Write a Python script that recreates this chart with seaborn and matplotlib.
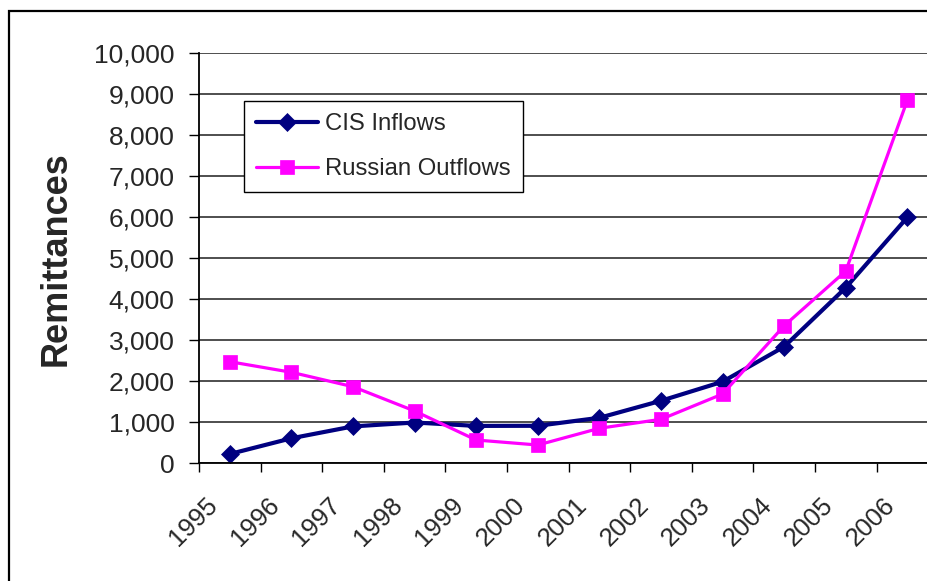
import matplotlib
matplotlib.use("Agg")
import matplotlib.pyplot as plt
from matplotlib.patches import Rectangle
from matplotlib.transforms import ScaledTranslation
from matplotlib.ticker import FuncFormatter, FixedLocator
import seaborn as sns
import pandas as pd

years = ["1995", "1996", "1997", "1998", "1999", "2000",
         "2001", "2002", "2003", "2004", "2005", "2006"]
cis_inflows = [227, 610, 900, 995, 912, 915, 1110, 1525, 1990, 2845, 4285, 6000]
russian_outflows = [2478, 2220, 1868, 1276, 568, 446, 854, 1073, 1690, 3356, 4690, 8860]
y_ticks = [0, 1000, 2000, 3000, 4000, 5000, 6000, 7000, 8000, 9000, 10000]

sns.set_theme(style="white")
plt.rcParams["font.family"] = ["Liberation Sans", "DejaVu Sans"]

df = pd.DataFrame({
    "idx": list(range(len(years))),
    "year": years,
    "CIS Inflows": cis_inflows,
    "Russian Outflows": russian_outflows,
})

W, H = 928, 581
fig = plt.figure(figsize=(W / 100, H / 100), dpi=100)
left_px, right_px = 199, 199 + 12 * 61.6
top_px, bot_px = 53.3, 463.3
ax = fig.add_axes([left_px / W, (H - bot_px) / H,
                   (right_px - left_px) / W, (bot_px - top_px) / H])

ax.set_axisbelow(True)
ax.yaxis.grid(True, color="#303030", linewidth=1.2)
ax.xaxis.grid(False)

sns.lineplot(data=df, x="idx", y="CIS Inflows", ax=ax, color="#000080",
             linewidth=3.0, marker="D", markersize=9, markeredgecolor="#000080",
             markeredgewidth=0.5, label="CIS Inflows")
sns.lineplot(data=df, x="idx", y="Russian Outflows", ax=ax, color="#FF00FF",
             linewidth=2.3, marker="s", markersize=10.5, markeredgecolor="#FF00FF",
             markeredgewidth=0.5, label="Russian Outflows")

ax.set_xlim(-0.5, len(years) - 0.5)
ax.set_ylim(0, 10000)
ax.set_yticks(y_ticks)
ax.yaxis.set_major_formatter(FuncFormatter(lambda v, p: f"{int(v):,}"))
ax.tick_params(axis="y", which="major", direction="out", length=7.2, width=1,
               color="black", pad=10.5, labelsize=19, left=True)

ax.set_xticks(list(range(len(years))))
ax.set_xticklabels(years, rotation=45, ha="right", va="center",
                   rotation_mode="anchor", fontsize=18.5)
ax.xaxis.set_minor_locator(FixedLocator([i - 0.5 for i in range(len(years) + 1)]))
ax.tick_params(axis="x", which="major", length=0, pad=27.5)
ax.tick_params(axis="x", which="minor", direction="out", length=6.5, width=1,
               color="black", bottom=True)
offset = ScaledTranslation(-16 / 100, 0, fig.dpi_scale_trans)
for lab in ax.get_xticklabels():
    lab.set_transform(lab.get_transform() + offset)

ax.set_xlabel("")
ax.set_ylabel("Remittances", fontsize=26, fontweight="bold")
ax.yaxis.set_label_coords((56 - left_px) / (right_px - left_px), 0.5)
ax.yaxis.label.set_va("center")

for side in ["top", "right"]:
    ax.spines[side].set_visible(False)
for side in ["left", "bottom"]:
    ax.spines[side].set_color("black")
    ax.spines[side].set_linewidth(1.3)

leg = ax.legend(loc="upper left",
                bbox_to_anchor=((244 - left_px) / (right_px - left_px),
                                (bot_px - 101) / (bot_px - top_px)),
                borderaxespad=0, fontsize=17.2, frameon=True, fancybox=False,
                framealpha=1, edgecolor="black", handlelength=2.6,
                handletextpad=0.3, labelspacing=0.98, borderpad=0.5)
leg.get_frame().set_linewidth(1.0)

fig.add_artist(Rectangle((9 / W, -0.2), 1.5, (H - 11) / H + 0.2,
                         transform=fig.transFigure, fill=False,
                         edgecolor="black", linewidth=1.6))

fig.savefig("out.png", dpi=100, facecolor="white")
